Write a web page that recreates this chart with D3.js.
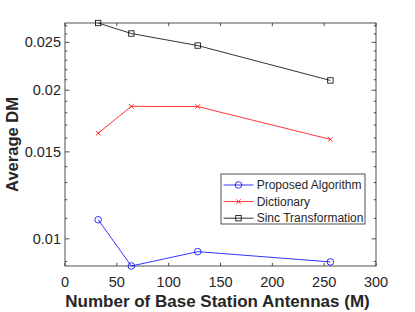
<!DOCTYPE html>
<meta charset="utf-8">
<style>
body { margin: 0; background: #fff; }
text { font-family: "Liberation Sans", Arial, Helvetica, sans-serif; fill: #262626; }
</style>
<svg width="415" height="312"></svg>
<script src="https://d3js.org/d3.v7.min.js"></script>
<script>

// antennas M
var antennas = [32, 64, 128, 256];
var proposed = [0.01093, 0.00881, 0.00942, 0.00898];
var dictionary = [0.01636, 0.01855, 0.01853, 0.0159];
var sinc = [0.02736, 0.02605, 0.02463, 0.02093];
var seriesNames = ["Proposed Algorithm", "Dictionary", "Sinc Transformation"];
var xTicks = [0, 50, 100, 150, 200, 250, 300];
var yTicks = [0.01, 0.015, 0.02, 0.025];
var yTickLabels = ["0.01", "0.015", "0.02", "0.025"];

var svg = d3.select("svg"),
    margin = {top: 23, right: 39, bottom: 46, left: 65},
    width = +svg.attr("width") - margin.left - margin.right,
    height = +svg.attr("height") - margin.top - margin.bottom,
    g = svg.append("g").attr("transform", "translate(" + margin.left + "," + margin.top + ")");

var axisColor = "#262626";

var all = proposed.concat(dictionary, sinc);
var x = d3.scaleLinear().domain([0, 300]).range([0, width]);
var y = d3.scaleLog().domain(d3.extent(all)).range([height, 0]);

// minor ticks every 0.001
var minor = d3.range(9, 28).map(function(d) { return d / 1000; })
    .filter(function(d) { return d >= y.domain()[0] && d <= y.domain()[1] && yTicks.indexOf(d) < 0; });

// box
g.append("rect")
    .attr("width", width).attr("height", height)
    .attr("fill", "none").attr("stroke", axisColor).attr("stroke-width", 0.8);

// x ticks bottom and top
xTicks.forEach(function(t) {
    var px = x(t);
    g.append("line").attr("x1", px).attr("x2", px).attr("y1", height).attr("y2", height - 3.2)
        .attr("stroke", axisColor).attr("stroke-width", 0.8);
    g.append("line").attr("x1", px).attr("x2", px).attr("y1", 0).attr("y2", 3.2)
        .attr("stroke", axisColor).attr("stroke-width", 0.8);
    g.append("text").attr("x", px).attr("y", height + 21)
        .attr("text-anchor", "middle").style("font-size", "14.5px").text(t);
});

// y ticks left and right
yTicks.forEach(function(t, i) {
    var py = y(t);
    g.append("line").attr("x1", 0).attr("x2", 4.5).attr("y1", py).attr("y2", py)
        .attr("stroke", axisColor).attr("stroke-width", 0.8);
    g.append("line").attr("x1", width).attr("x2", width - 4.5).attr("y1", py).attr("y2", py)
        .attr("stroke", axisColor).attr("stroke-width", 0.8);
    g.append("text").attr("x", -4).attr("y", py).attr("dy", "0.35em")
        .attr("text-anchor", "end").style("font-size", "14.5px").text(yTickLabels[i]);
});
minor.forEach(function(t) {
    var py = y(t);
    g.append("line").attr("x1", 0).attr("x2", 2.3).attr("y1", py).attr("y2", py)
        .attr("stroke", axisColor).attr("stroke-width", 0.8);
    g.append("line").attr("x1", width).attr("x2", width - 2.3).attr("y1", py).attr("y2", py)
        .attr("stroke", axisColor).attr("stroke-width", 0.8);
});

// axis labels
g.append("text").attr("x", width / 2 - 3).attr("y", height + 41)
    .attr("text-anchor", "middle").style("font-size", "17px").style("font-weight", "bold")
    .text("Number of Base Station Antennas (M)");
g.append("text").attr("transform", "translate(" + (-47) + "," + (height / 2) + ") rotate(-90)")
    .attr("text-anchor", "middle").style("font-size", "16.5px").style("font-weight", "bold")
    .text("Average DM");

var series = [
    {name: seriesNames[0], values: proposed, color: "#0000ff", marker: "circle"},
    {name: seriesNames[1], values: dictionary, color: "#ff0000", marker: "cross"},
    {name: seriesNames[2], values: sinc, color: "#000000", marker: "square"}
];

function drawMarker(sel, type, color) {
    if (type === "circle") {
        sel.append("circle").attr("r", 3.3).attr("fill", "none").attr("stroke", color).attr("stroke-width", 0.8);
    } else if (type === "square") {
        sel.append("rect").attr("x", -2.7).attr("y", -2.7).attr("width", 5.4).attr("height", 5.4)
            .attr("fill", "none").attr("stroke", color).attr("stroke-width", 0.8);
    } else {
        sel.append("path").attr("d", "M-2.3,-2.3L2.3,2.3M-2.3,2.3L2.3,-2.3")
            .attr("stroke", color).attr("stroke-width", 0.8);
    }
}

var line = d3.line()
    .x(function(d, i) { return x(antennas[i]); })
    .y(function(d) { return y(d); });

series.forEach(function(s) {
    g.append("path").datum(s.values)
        .attr("d", line).attr("fill", "none")
        .attr("stroke", s.color).attr("stroke-width", 0.8);
    s.values.forEach(function(v, i) {
        var m = g.append("g").attr("transform", "translate(" + x(antennas[i]) + "," + y(v) + ")");
        drawMarker(m, s.marker, s.color);
    });
});

// legend
var legend = svg.append("g").attr("transform", "translate(221,174)");
legend.append("rect").attr("width", 144).attr("height", 50)
    .attr("fill", "#fff").attr("stroke", axisColor).attr("stroke-width", 0.8);
series.forEach(function(s, i) {
    var row = legend.append("g").attr("transform", "translate(0," + (11 + i * 16.6) + ")");
    row.append("line").attr("x1", 2.5).attr("x2", 32.5).attr("y1", 0).attr("y2", 0)
        .attr("stroke", s.color).attr("stroke-width", 0.8);
    var m = row.append("g").attr("transform", "translate(17.5,0)");
    drawMarker(m, s.marker, s.color);
    row.append("text").attr("x", 35.7).attr("y", 0).attr("dy", "0.35em")
        .style("font-size", "12px").text(s.name);
});

</script>
